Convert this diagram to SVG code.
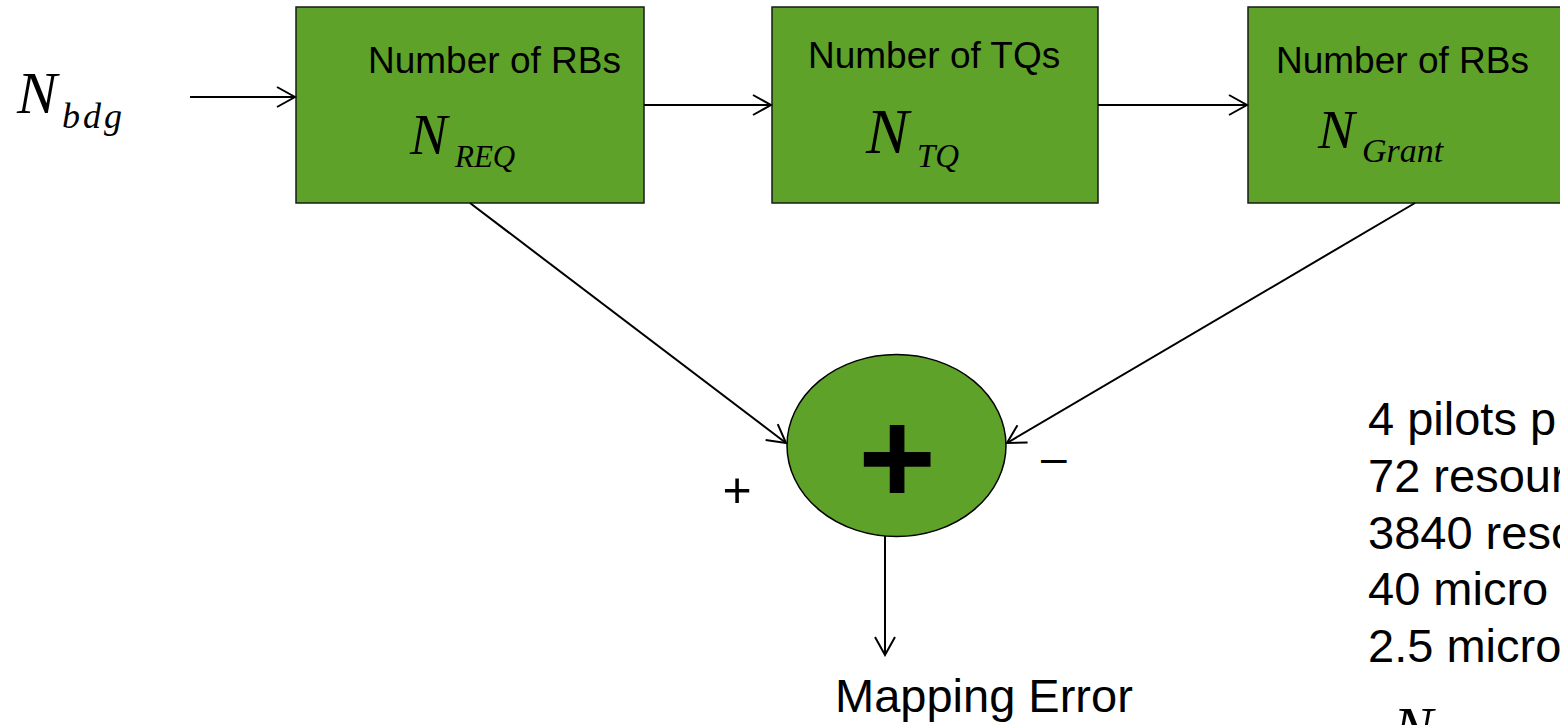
<svg xmlns="http://www.w3.org/2000/svg" width="1560" height="725" viewBox="0 0 1560 725">
<style>
.box{fill:#5FA22A;stroke:#1a1a1a;stroke-width:1.5}
.lbl{font-family:"Liberation Sans",Arial,sans-serif;font-size:37px;fill:#000}
.math{font-family:"Liberation Serif","Times New Roman",serif;font-style:italic;fill:#000}
.txt{font-family:"Liberation Sans",Arial,sans-serif;font-size:47px;fill:#000}
.con{stroke:#000;stroke-width:2;fill:none}
</style>
<defs>
<marker id="arr" viewBox="0 0 22 22" refX="20" refY="11" markerWidth="22" markerHeight="22" markerUnits="userSpaceOnUse" orient="auto">
<path d="M2,1 L20,11 L2,21" fill="none" stroke="#000" stroke-width="2"/>
</marker>
</defs>
<rect width="1560" height="725" fill="#fff"/>
<g id="input">
<text class="math" x="17" y="113" font-size="60">N</text>
<text class="math" x="62" y="128" font-size="36" letter-spacing="3">bdg</text>
</g>
<g id="box-req">
<rect class="box" x="296" y="7" width="348" height="196"/>
<text class="lbl" x="368" y="73">Number of RBs</text>
<text class="math" x="410" y="154" font-size="56">N</text>
<text class="math" x="455" y="167" font-size="31">REQ</text>
</g>
<g id="box-tq">
<rect class="box" x="772" y="7" width="326" height="196"/>
<text class="lbl" x="808" y="68">Number of TQs</text>
<text class="math" x="866" y="153" font-size="64">N</text>
<text class="math" x="917" y="167" font-size="33">TQ</text>
</g>
<g id="box-grant">
<rect class="box" x="1248" y="7" width="330" height="196"/>
<text class="lbl" x="1276" y="73">Number of RBs</text>
<text class="math" x="1318" y="148" font-size="55">N</text>
<text class="math" x="1362" y="162" font-size="34">Grant</text>
</g>
<g id="sum">
<ellipse cx="896.5" cy="445.5" rx="109.5" ry="91" fill="#5FA22A" stroke="#000" stroke-width="1.5"/>
<text x="897" y="504" text-anchor="middle" font-family="Liberation Sans,Arial,sans-serif" font-weight="bold" font-size="133">+</text>
</g>
<g id="signs">
<text x="722.6" y="507" font-family="Liberation Sans,Arial,sans-serif" font-size="50">+</text>
<text x="1041" y="473" font-family="Liberation Sans,Arial,sans-serif" font-size="46">–</text>
</g>
<g id="output-label">
<text class="txt" x="835" y="712">Mapping Error</text>
</g>
<g id="notes">
<text class="txt" x="1368" y="435">4 pilots p</text>
<text class="txt" x="1368" y="492">72 resour</text>
<text class="txt" x="1368" y="549">3840 reso</text>
<text class="txt" x="1368" y="605">40 micro</text>
<text class="txt" x="1368" y="662">2.5 micro</text>
<text class="math" x="1393" y="748" font-size="60">N</text>
</g>
<g id="connectors">
<line class="con" x1="190" y1="97" x2="295" y2="97" marker-end="url(#arr)"/>
<line class="con" x1="644" y1="105" x2="771" y2="105" marker-end="url(#arr)"/>
<line class="con" x1="1098" y1="105" x2="1247" y2="105" marker-end="url(#arr)"/>
<line class="con" x1="470" y1="203" x2="786" y2="443" marker-end="url(#arr)"/>
<line class="con" x1="1415" y1="203" x2="1007" y2="443" marker-end="url(#arr)"/>
<line class="con" x1="885" y1="536" x2="885" y2="655" marker-end="url(#arr)"/>
</g>
</svg>
